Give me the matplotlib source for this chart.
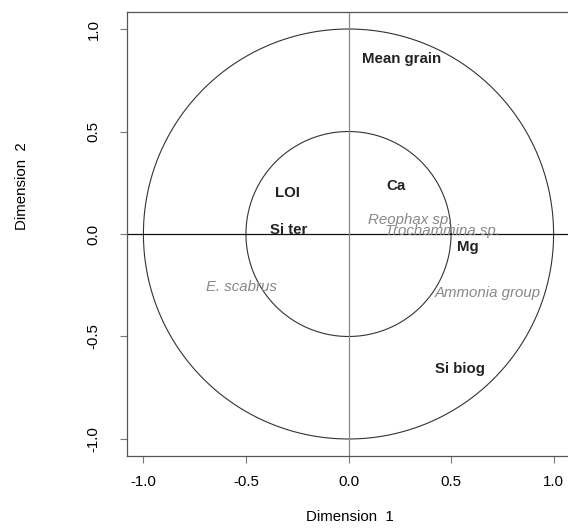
import numpy as np
import matplotlib.pyplot as plt

# variables (bold, black) and species (italic, gray) on the two dimensions
var_names = ["Mean grain", "Ca", "LOI", "Si ter", "Mg", "Si biog"]
var_x = [0.26, 0.23, -0.30, -0.29, 0.58, 0.545]
var_y = [0.855, 0.235, 0.20, 0.02, -0.065, -0.66]

sp_names = ["Reophax sp.", "Trochammina sp.", "Ammonia group", "E. scabrus"]
sp_x = [0.30, 0.46, 0.68, -0.52]
sp_y = [0.07, 0.015, -0.29, -0.26]

ticks = [-1.0, -0.5, 0.0, 0.5, 1.0]
radii = [1.0, 0.5]

plt.rcParams['font.family'] = ['Liberation Sans', 'DejaVu Sans']
fs = 10.8

fig = plt.figure(figsize=(5.68, 5.28), dpi=100)
ax = fig.add_axes([127 / 568, 72 / 528, 443 / 568, 444 / 528])

t = np.linspace(0, 2 * np.pi, 400)
for r in radii:
    ax.plot(r * np.cos(t), r * np.sin(t), color='#333333', lw=0.8)

ax.axhline(0, color='#111111', lw=0.9)
ax.axvline(0, color='#888888', lw=0.9)

for n, x, y in zip(var_names, var_x, var_y):
    ax.text(x, y, n, ha='center', va='center', fontsize=fs, fontweight='bold', color='#222222')
for n, x, y in zip(sp_names, sp_x, sp_y):
    ax.text(x, y, n, ha='center', va='center', fontsize=fs, style='italic', color='#888888')

ax.set_xlim(-1.08, 1.08)
ax.set_ylim(-1.083, 1.083)
ax.set_xticks(ticks)
ax.set_yticks(ticks)
ax.set_xticklabels([f"{v:.1f}" for v in ticks])
ax.set_yticklabels([f"{v:.1f}" for v in ticks], rotation=90, va='center')
ax.tick_params(length=5, width=0.8, color='#777777', labelsize=fs)
ax.tick_params(axis='x', pad=9)
ax.tick_params(axis='y', pad=14)
for s in ax.spines.values():
    s.set_color('#555555')
    s.set_linewidth(0.9)

fig.text(350 / 568, 11 / 528, "Dimension  1", ha='center', va='center', fontsize=fs)
fig.text(22 / 568, 1 - 186 / 528, "Dimension  2", ha='center', va='center', fontsize=fs, rotation=90)

plt.savefig("out.png", dpi=100)
